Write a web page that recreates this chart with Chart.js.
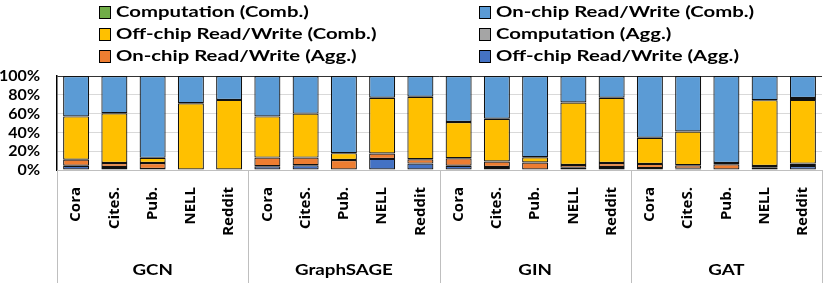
<!DOCTYPE html>
<html>
<head>
<meta charset="utf-8">
<script src="https://cdn.jsdelivr.net/npm/chart.js@4"></script>
<style>
body{margin:0;background:#fff;}
#wrap{position:relative;width:830px;height:283px;}
#legend{position:absolute;left:0;top:0;width:830px;height:70px;font-family:Lato,sans-serif;font-weight:bold;font-size:16px;color:#000;}
.item{position:absolute;height:16px;white-space:nowrap;}
.box{position:absolute;left:0;top:2px;width:10px;height:11px;border:1px solid #000;}
.txt{position:absolute;left:17px;top:-3px;line-height:20px;transform:scaleX(1.27);transform-origin:0 50%;}
</style>
</head>
<body>
<div id="wrap">
<canvas id="c" width="830" height="283"></canvas>
<div id="legend"></div>
</div>
<script>
const sets=['Cora','CiteS.','Pub.','NELL','Reddit'];
const models=['GCN','GraphSAGE','GIN','GAT'];
const labels=models.flatMap(()=>sets);

const offAgg  =[4.6,3.2,1.0,0,0,   4.0,5.0,0.5,11.8,6.8, 4.6,3.2,0.5,2.5,3.2, 2.0,1.4,0.5,2.5,4.3];
const compAgg =[0,0,0,0,0, 0,0,0,0,0, 0,0,0,0,0, 0,0,0,0,0];
const onAgg   =[6.4,4.3,6.5,0,0,   9.2,8.2,10.2,5.7,4.6, 7.9,5.8,7.4,2.9,4.3, 4.4,3.6,5.5,1.8,2.5];
const offComb =[46,52.9,5.4,71,74.6, 43.8,46.8,7.2,59.3,66.5, 38.5,45.6,5.7,66.4,69.3, 27.9,36,1.5,70,67.8];
const compComb=[0,0,0,0,0, 0,0,0,0,0, 0,0,0,0,0, 0,0,0,0,2];
const onComb  =[43,39.6,87.1,29,25.4, 43,40,82.1,23.2,22.1, 49,45.4,86.4,28.2,23.2, 65.7,59,92.5,25.7,23.4];
const yTicks=[0,20,40,60,80,100];

const series=[
 {label:'Off-chip Read/Write (Agg.)',data:offAgg,color:'#4472C4'},
 {label:'Computation (Agg.)',data:compAgg,color:'#A5A5A5'},
 {label:'On-chip Read/Write (Agg.)',data:onAgg,color:'#ED7D31'},
 {label:'Off-chip Read/Write (Comb.)',data:offComb,color:'#FFC000'},
 {label:'Computation (Comb.)',data:compComb,color:'#70AD47'},
 {label:'On-chip Read/Write (Comb.)',data:onComb,color:'#5B9BD5'}
];
// legend reading order (row by row, two columns)
const legendOrder=[4,5,3,1,2,0];

const leg=document.getElementById('legend');
legendOrder.forEach((k,i)=>{
 const s=series[k];
 const d=document.createElement('div');d.className='item';
 d.style.left=(i%2?479:99)+'px';d.style.top=(4+Math.floor(i/2)*22)+'px';
 d.innerHTML='<span class="box" style="background:'+s.color+'"></span><span class="txt">'+s.label+'</span>';
 leg.appendChild(d);
});

const groupPlugin={
 id:'groups',
 afterDraw(ch){
  const a=ch.chartArea,ctx=ch.ctx,n=sets.length;
  ctx.save();
  ctx.strokeStyle='#bfbfbf';ctx.lineWidth=1;
  const step=(a.right-a.left)/labels.length;
  for(let g=0;g<=models.length;g++){
   const xx=Math.round(a.left+g*n*step)+0.5;
   ctx.beginPath();ctx.moveTo(xx,a.bottom);ctx.lineTo(xx,ch.height);ctx.stroke();
  }
  ctx.fillStyle='#000';ctx.font='bold 15px Lato';ctx.textAlign='center';ctx.textBaseline='middle';
  models.forEach((m,g)=>{
   ctx.save();ctx.translate(a.left+(g*n+n/2)*step,270);ctx.scale(1.25,1);
   ctx.fillText(m,0,0);ctx.restore();
  });
  ctx.restore();
 }
};

new Chart(document.getElementById('c'),{
 type:'bar',
 data:{labels,datasets:series.map(s=>({label:s.label,data:s.data,backgroundColor:s.color,borderColor:'#111',
   borderWidth:c=>c.raw===0?0:1.2,borderSkipped:false,categoryPercentage:1,barPercentage:0.68}))},
 options:{
  responsive:false,animation:false,
  layout:{padding:{top:76,right:4,left:0,bottom:0}},
  plugins:{legend:{display:false},tooltip:{enabled:false}},
  scales:{
   x:{stacked:true,grid:{display:false},border:{color:'#bfbfbf'},
      ticks:{minRotation:90,maxRotation:90,padding:9,color:'#000',font:{family:'Open Sans',weight:'bold',size:15}},
      afterFit(s){s.height=113;}},
   y:{stacked:true,min:0,max:100,
      afterBuildTicks(s){s.ticks=yTicks.map(v=>({value:v}));},
      grid:{color:c=>c.tick&&c.tick.value===100?'#333':'#d9d9d9',drawTicks:false},
      border:{color:'#000',width:1.5},
      ticks:{autoSkip:false,padding:17,color:'#000',font:{family:'Lato',weight:'bold',size:16},callback:v=>v+'%'},
      afterFit(s){s.width=57;}}
  }
 },
 plugins:[groupPlugin]
});
</script>
</body>
</html>
